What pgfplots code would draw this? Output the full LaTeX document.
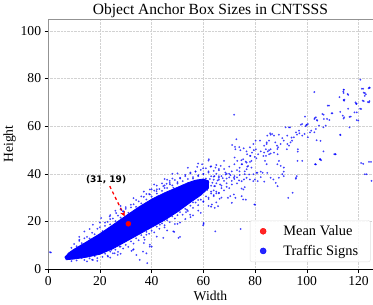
\documentclass[border=0pt]{standalone}
\usepackage{pgfplots}
\pgfplotsset{compat=1.18}
\usepackage{fontspec}
\setmainfont{Liberation Serif}
\newfontfamily\dejavu{DejaVu Sans}
\usetikzlibrary{arrows.meta}

\pgfplotstableread{
w h
120.7 79.5
114.2 75.3
114.2 73.9
121.8 75.7
122.4 73.9
122.8 73.4
124.2 76.2
115.8 73.5
102.9 74.3
114.2 71.0
122.0 70.5
124.2 70.5
119.2 69.4
121.0 67.2
119.3 65.8
117.0 64.0
114.4 63.7
119.9 62.3
108.6 68.6
109.9 65.4
106.0 65.1
103.5 63.7
102.9 63.0
99.3 64.0
106.6 63.0
107.3 60.2
106.4 59.5
104.0 62.3
104.7 60.2
100.4 60.9
99.8 60.5
99.5 60.0
98.2 60.9
101.7 58.1
101.2 57.4
99.1 56.7
98.2 56.0
103.5 58.8
102.9 57.4
100.4 55.3
103.8 54.1
105.3 53.8
95.8 57.4
96.2 56.4
97.1 57.0
91.8 59.5
93.1 59.5
95.0 55.3
94.3 53.9
93.1 51.8
93.7 53.2
92.4 56.0
90.5 55.0
91.1 53.9
89.2 56.4
87.3 56.0
86.6 56.7
86.0 56.4
96.5 50.3
96.5 49.3
89.9 52.5
88.9 51.1
88.6 50.4
87.8 53.2
88.5 51.8
85.4 53.9
84.5 52.5
83.5 51.8
88.7 48.2
87.3 48.9
86.0 50.3
92.3 50.3
92.5 52.5
81.9 53.9
81.2 48.2
80.3 50.3
79.3 52.5
78.0 51.1
76.7 49.4
72.2 51.3
110.6 48.2
112.9 56.4
106.4 49.4
103.2 44.0
105.0 46.1
105.5 45.7
98.2 45.4
95.8 38.3
94.5 32.0
92.8 29.9
121.8 44.2
124.8 45.0
123.1 39.8
125.0 37.0
79.7 27.1
88.7 34.8
88.0 36.2
87.1 37.6
86.0 38.3
89.2 38.3
91.1 39.0
91.1 42.6
91.1 40.9
90.5 39.8
89.9 43.3
88.6 44.0
89.2 45.4
84.5 44.0
83.8 45.4
82.9 40.4
84.7 40.4
80.9 40.4
82.2 40.9
84.2 47.5
83.5 48.9
85.4 48.2
86.0 48.5
84.2 50.3
84.9 49.4
85.4 49.9
82.2 49.4
83.2 47.5
79.9 47.1
78.6 45.4
80.5 46.5
78.0 47.5
76.7 44.7
77.3 43.3
75.4 46.1
74.8 44.0
76.7 41.9
78.6 42.6
79.3 39.8
80.5 40.4
76.7 38.3
78.0 37.6
74.8 36.9
76.0 39.8
81.0 36.9
83.5 36.7
82.2 38.6
79.9 37.6
74.8 33.8
76.0 34.4
79.3 36.9
75.4 29.2
74.8 30.6
71.9 64.8
114.1 74.5
116.0 73.1
114.4 70.7
116.0 67.3
118.8 70.0
120.6 67.3
121.6 70.7
124.0 70.0
122.0 74.1
122.4 72.7
123.9 75.9
112.9 66.0
114.2 63.2
116.5 63.9
119.3 62.5
111.1 48.2
121.0 44.5
124.0 45.0
122.4 39.8
103.5 43.9
105.1 46.0
95.8 37.9
108.1 68.6
106.5 64.8
109.6 65.4
103.1 63.4
103.9 62.6
107.8 63.0
108.7 62.6
97.7 60.6
100.0 60.6
97.0 58.1
93.5 59.5
94.1 55.2
85.8 57.0
84.7 56.0
84.5 53.2
80.2 53.9
79.5 49.9
112.6 72.2
114.3 75.3
114.5 71.1
119.1 69.4
118.4 65.8
113.9 64.4
116.5 59.5
113.0 56.2
111.0 48.2
105.2 46.1
103.3 44.0
96.4 45.4
96.1 39.0
121.3 75.7
124.3 76.1
123.6 70.1
72.8 54.5
71.1 52.1
72.4 50.3
73.9 51.2
74.3 49.9
75.6 50.7
76.9 48.2
78.2 47.5
78.8 48.9
72.1 46.8
73.1 45.4
74.7 45.7
76.4 45.1
68.0 45.4
66.7 43.3
64.7 42.6
62.8 43.0
62.1 46.1
59.5 44.0
59.9 42.3
57.6 42.9
64.3 39.0
66.0 38.3
68.6 39.7
70.5 39.4
71.8 38.3
73.8 37.2
75.7 37.6
77.7 39.7
75.5 33.4
76.4 29.1
71.8 31.3
63.3 27.1
64.2 34.8
56.8 33.4
54.9 31.3
53.6 24.9
54.9 22.8
53.3 23.9
49.7 26.8
50.7 25.6
47.4 24.9
49.7 30.6
47.1 35.5
44.5 34.8
45.8 35.8
48.4 34.1
41.9 32.7
42.6 30.6
39.3 31.3
44.5 22.1
43.2 20.0
48.4 15.8
49.0 18.9
64.6 15.8
60.1 18.9
48.7 15.6
74.4 16.8
80.0 27.0
60.1 19.3
59.9 18.4
50.4 13.1
51.0 13.5
44.5 13.1
40.0 9.4
37.3 12.3
38.0 14.4
43.2 18.6
41.9 19.3
70.4 30.6
72.4 29.9
69.5 29.9
71.0 27.8
66.3 29.5
65.7 26.4
64.4 25.7
0.7 7.1
1.05 6.9
39.3 33.4
34.1 5.9
36.7 7.3
35.4 3.8
32.8 8.0
39.3 10.2
38.0 6.6
28.9 11.5
27.6 9.4
25.7 6.6
23.1 5.2
24.4 8.0
17.3 3.8
26.3 23.5
28.9 24.3
23.8 22.1
20.5 21.4
17.3 18.6
14.0 15.8
12.1 12.3
39.3 9.4
32.2 7.6
26.9 5.9
38.3 2.5
55 35
56 38
57 36.5
57 32
58 34
58 39
59 37
59 33.5
60 36
60 40
61 38
61 34
62 36.5
62 41
63 39
63 35
64 37.5
64 33
65 40
65 36
66 41.5
66 37.5
67 39
67 35
68 42
68 37
69 40
69 36
70 43
70 38.5
71 41
71 35.5
72 44
72 39
73 41.5
73 36
74 42.5
74 39.5
75 44
76 41
77 43
78 45
68 33
62 30
66 32
70 34
58 29
56 28
60 28.5
64 31
52 30
53 33
54 36
52 35
51 32
50 36.5
48 38
46 37.5
44 36
42 35
40 33.5
38 31.5
36 30.5
34 29
32 27
30 26
28 25
26 24.5
24 21
22 19.5
58.5 35
59.5 36.2
60.5 34.8
61 36.8
61.5 33.2
62.5 37.8
63.5 36.2
64 38.8
64.5 34.8
65.5 37.2
66 39
66.5 35.5
67.5 38.2
68.5 40.5
69 38
70 40
63 32.5
65 31.8
67 34
69 34.5
71 37
72 37.8
73 38.5
74 41
42 33.5
45 34
47 37
51 38
53 39.5
55 40.5
57 41
48 40
45 17.5
50 19
53 21
56 22.5
58 24.5
62 26.5
65 28
67 30
9 8.9
10 10.5
11 9.6
12 11.8
13 10.9
14 12.9
15 13.5
16 12.8
17 15.2
18 14.6
19 16.9
20 17.5
21 15.9
22 18.1
23 19.8
24 18.7
25 21.2
26 20.1
27 22.4
28 21.6
29 24.1
30 25.3
31 23.6
32 25.9
33 27.2
34 26.1
35 28.4
36 27.6
37 30.3
38 29.2
39 31.5
40 30.4
41 32.9
42 31.7
43 33.6
44 32.8
45 35.1
46 34
47 36.2
48 35.1
49 37.4
50 35.9
51 38.3
52 36.9
53 39
54 37.8
55 40.1
56 38.6
57 40.9
58 39.4
59 41.6
60 39.8
61 42.3
62 40.5
63 43.1
64 41.2
65 43.7
66 42
12 13.5
16 16.8
20 19.5
24 22.6
28 26.5
33 29.8
37 32.5
41 35.5
45 37.8
50 40.2
54 42.5
58 44.3
62 45.5
9 3.3
11 3.6
13 4.6
14 3.8
16 4.5
17 3.9
18 5.4
19 4.6
21 5.1
22 6.4
23 5.6
24 7.3
25 6.6
26 8.1
27 7.2
28 9.4
29 8.6
30 10.1
31 9.3
32 11.6
33 10.7
34 12.9
35 12.1
36 14.2
37 13.3
38 15.6
39 14.8
40 16.1
41 15.4
42 17.8
43 16.9
44 19.2
45 18.4
46 20.5
47 19.7
48 22.1
49 21.2
50 22.6
51 23.9
52 22.8
53 25.3
54 24.4
55 26.6
56 25.7
57 27.9
58 26.8
59 29.1
60 28.2
61 30.5
62 29.4
63 31.7
64 30.6
65 32.5
66 31.8
15 3.2
19 3.4
24 4.8
28 6.4
33 8.3
37 10.9
42 13.6
46 16.2
51 19.5
55 21.8
59 23.6
63 26.2
}\signs

\pgfplotstableread{
w h
6.5 5
8 6.8
10 8.3
15 11.5
20 14.8
25 18.5
30 22.3
35 26
40 29.3
45 32
50 34.3
54 36.2
57 37.3
60 37.8
62 37
62 34
59 31
55 28
50 24
45 20.5
40 17.5
35 14.5
30 11.5
25 8.5
20 6.2
15 5
10 4.2
7 3.9
}\core

\begin{document}
\begin{tikzpicture}
\begin{axis}[
  scale only axis,
  width=322pt, height=248pt,
  xmin=0, xmax=125.5, ymin=0, ymax=105,
  xtick={0,20,40,60,80,100,120},
  ytick={0,20,40,60,80,100},
  font=\fontsize{13.5}{16}\selectfont,
  /pgf/number format/assume math mode=true,
  tick label style={font=\fontsize{13.5}{16}\selectfont},
  title={Object Anchor Box Sizes in CNTSSS},
  title style={font=\fontsize{15.4}{16}\selectfont, yshift=-8pt},
  xlabel={Width}, ylabel={Height},
  xlabel style={yshift=1pt},
  ylabel style={yshift=-2pt},
  grid=major,
  grid style={densely dotted, gray!35},
  axis line style={gray!85},
  tick pos=left,
  tick align=outside,
  major tick length=3.5pt,
  tick style={black, thin},
  legend style={at={(0.993,0.028)}, anchor=south east, draw=gray!25, rounded corners=2pt,
    fill=white, fill opacity=0.85, text opacity=1, font=\fontsize{14.3}{16}\selectfont,
    inner xsep=10pt, inner ysep=3pt, row sep=4pt, column sep=15pt},
  legend cell align=left,
]
\addlegendimage{only marks, mark=*, mark size=3pt, red}
\addlegendentry{Mean Value}
\addlegendimage{only marks, mark=*, mark size=3pt, blue}
\addlegendentry{Traffic Signs}

\addplot[forget plot, fill=blue, draw=blue, line width=0.8pt] table[x=w,y=h] {\core} -- cycle;
\addplot[forget plot, only marks, mark=*, mark size=1pt, blue,
  mark options={draw opacity=0, fill opacity=0.75}] table[x=w,y=h] {\signs};
\addplot[forget plot, only marks, mark=*, mark size=2.5pt, red] coordinates {(31,19)};

\draw[black, line width=0.9pt] (rel axis cs:0,0) -- (rel axis cs:1,0);
\draw[red, dashed, line width=1.3pt, -{Stealth[length=5pt,width=5pt]}] (axis cs:23.8,34.8) -- (axis cs:29.6,22.1);
\node[font=\dejavu\bfseries\fontsize{9}{10}\selectfont] at (axis cs:22.4,37.6) {(31, 19)};
\end{axis}
\end{tikzpicture}
\end{document}
